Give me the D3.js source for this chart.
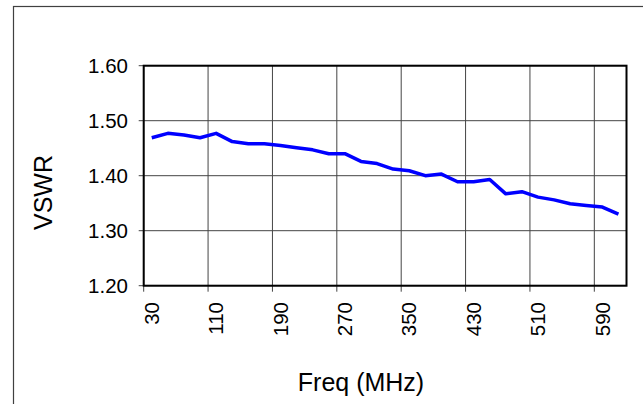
<!DOCTYPE html>
<html>
<head>
<meta charset="utf-8">
<script src="https://cdn.jsdelivr.net/npm/d3@7"></script>
<style>
  html, body { margin: 0; padding: 0; background: #fff; }
  svg { display: block; font-family: 'Liberation Sans', Arial, sans-serif; }
</style>
</head>
<body>
<div id="chart"></div>
<script>
// frequency categories (MHz) and measured VSWR
const freqs = [30, 50, 70, 90, 110, 130, 150, 170, 190, 210, 230, 250, 270, 290, 310,
  330, 350, 370, 390, 410, 430, 450, 470, 490, 510, 530, 550, 570, 590, 610]
const vswr = [1.469, 1.477, 1.474, 1.469, 1.477, 1.462, 1.458, 1.458, 1.455, 1.451,
  1.447, 1.440, 1.440, 1.426, 1.422, 1.412, 1.409, 1.400, 1.403, 1.389,
  1.389, 1.393, 1.367, 1.371, 1.361, 1.356, 1.349, 1.346, 1.343, 1.330]
const yTicks = [1.2, 1.3, 1.4, 1.5, 1.6]
const xLabels = [30, 110, 190, 270, 350, 430, 510, 590]

const W = 643
const H = 404
const plot = { left: 143.7, top: 65.7, right: 626.5, bottom: 285.7 }

const svg = d3.select('#chart').append('svg')
  .attr('width', W)
  .attr('height', H)

// outer chart-area frame (extends past the picture on right/bottom)
svg.append('rect')
  .attr('x', 13.5)
  .attr('y', 6.5)
  .attr('width', W + 40)
  .attr('height', H + 40)
  .attr('fill', '#fff')
  .attr('stroke', '#404040')
  .attr('stroke-width', 1.2)

const x = d3.scaleBand()
  .domain(freqs)
  .range([plot.left, plot.right])
  .padding(0)

const y = d3.scaleLinear()
  .domain([1.2, 1.6])
  .range([plot.bottom, plot.top])

const bw = x.bandwidth()

// horizontal gridlines
svg.append('g').selectAll('line')
  .data(yTicks)
  .join('line')
  .attr('x1', plot.left - 5)
  .attr('x2', plot.right)
  .attr('y1', d => y(d))
  .attr('y2', d => y(d))
  .attr('stroke', '#444')
  .attr('stroke-width', 1)

// vertical gridlines at category boundaries
svg.append('g').selectAll('line')
  .data(xLabels)
  .join('line')
  .attr('x1', d => x(d))
  .attr('x2', d => x(d))
  .attr('y1', plot.top)
  .attr('y2', plot.bottom + 6)
  .attr('stroke', '#444')
  .attr('stroke-width', 1)

// plot border
svg.append('rect')
  .attr('x', plot.left)
  .attr('y', plot.top)
  .attr('width', plot.right - plot.left)
  .attr('height', plot.bottom - plot.top)
  .attr('fill', 'none')
  .attr('stroke', '#000')
  .attr('stroke-width', 2)

// y tick labels
svg.append('g').selectAll('text')
  .data(yTicks)
  .join('text')
  .attr('x', 128)
  .attr('y', d => y(d))
  .attr('dy', '0.35em')
  .attr('text-anchor', 'end')
  .attr('font-size', 20.5)
  .text(d3.format('.2f'))

// x tick labels, rotated, centred on their category
svg.append('g').selectAll('text')
  .data(xLabels)
  .join('text')
  .attr('transform', d => 'translate(' + (x(d) + bw / 2) + ',302) rotate(-90)')
  .attr('dy', '0.35em')
  .attr('text-anchor', 'end')
  .attr('font-size', 20.5)
  .text(d => d)

// axis titles
svg.append('text')
  .attr('transform', 'translate(51.5,192.5) rotate(-90)')
  .attr('text-anchor', 'middle')
  .attr('font-size', 25)
  .text('VSWR')

svg.append('text')
  .attr('x', 361)
  .attr('y', 391)
  .attr('text-anchor', 'middle')
  .attr('font-size', 25)
  .text('Freq (MHz)')

// data line
const line = d3.line()
  .x((d, i) => x(freqs[i]) + bw / 2)
  .y(d => y(d))

svg.append('path')
  .datum(vswr)
  .attr('d', line)
  .attr('fill', 'none')
  .attr('stroke', '#0000ff')
  .attr('stroke-width', 3.5)
  .attr('stroke-linejoin', 'round')
</script>
</body>
</html>
